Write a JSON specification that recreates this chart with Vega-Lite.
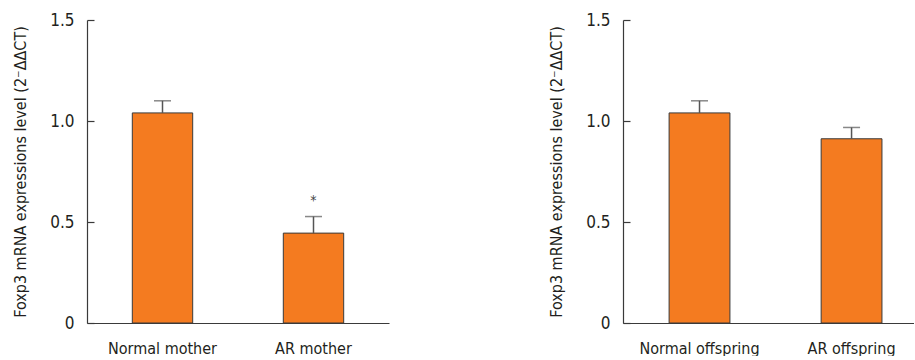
{
  "$schema": "https://vega.github.io/schema/vega-lite/v6.json",
  "background": "white",
  "padding": {"left": 12, "top": 11, "right": 0, "bottom": 0},
  "config": {
    "font": "DejaVu Sans Condensed, sans-serif",
    "view": {"stroke": null},
    "axis": {
      "labelFont": "DejaVu Sans Condensed, sans-serif",
      "titleFont": "DejaVu Sans Condensed, sans-serif",
      "labelFontSize": 16,
      "titleFontSize": 16,
      "titleFontWeight": "normal",
      "labelColor": "#231f20",
      "titleColor": "#231f20",
      "domainColor": "#3a3a3a",
      "tickColor": "#3a3a3a",
      "domainWidth": 1.2,
      "tickWidth": 1.2,
      "grid": false
    }
  },
  "data": {
    "values": [
      {"panel": "mother", "group": "Normal mother", "value": 1.04, "upper": 1.1, "sig": ""},
      {"panel": "mother", "group": "AR mother", "value": 0.445, "upper": 0.527, "sig": "*"},
      {"panel": "offspring", "group": "Normal offspring", "value": 1.04, "upper": 1.1, "sig": ""},
      {"panel": "offspring", "group": "AR offspring", "value": 0.912, "upper": 0.968, "sig": ""}
    ]
  },
  "spacing": 159,
  "hconcat": [
    {
      "width": 302,
      "height": 303,
      "transform": [{"filter": "datum.panel == 'mother'"}],
      "encoding": {
        "x": {
          "field": "group",
          "type": "nominal",
          "sort": null,
          "title": null,
          "scale": {"paddingInner": 0.6, "paddingOuter": 0.3},
          "axis": {"labelAngle": 0, "ticks": false, "labelPadding": 17}
        }
      },
      "layer": [
        {
          "mark": {"type": "bar", "color": "#f47b20", "stroke": "#3a3a3a", "strokeWidth": 1},
          "encoding": {
            "y": {
              "field": "value",
              "type": "quantitative",
              "scale": {"domain": [0, 1.5], "nice": false},
              "title": "Foxp3 mRNA expressions level (2⁻ΔΔCT)",
              "axis": {"values": [0, 0.5, 1, 1.5], "labelExpr": "datum.value == 0 ? '0' : format(datum.value, '.1f')", "labelFontSize": 17, "tickSize": -7, "labelPadding": 20, "titlePadding": 21}
            }
          }
        },
        {
          "mark": {"type": "rule", "color": "#555555", "strokeWidth": 1.5},
          "encoding": {"y": {"field": "value", "type": "quantitative"}, "y2": {"field": "upper"}}
        },
        {
          "mark": {"type": "tick", "color": "#555555", "thickness": 1.5, "size": 17},
          "encoding": {"y": {"field": "upper", "type": "quantitative"}}
        },
        {
          "mark": {"type": "text", "fontSize": 14, "dy": -16, "color": "#444444", "baseline": "middle"},
          "encoding": {"y": {"field": "upper", "type": "quantitative"}, "text": {"field": "sig"}}
        }
      ]
    },
    {
      "width": 291,
      "height": 303,
      "transform": [{"filter": "datum.panel == 'offspring'"}],
      "encoding": {
        "x": {
          "field": "group",
          "type": "nominal",
          "sort": null,
          "title": null,
          "scale": {"paddingInner": 0.6, "paddingOuter": 0.257, "align": 0.59},
          "axis": {"labelAngle": 0, "ticks": false, "labelPadding": 17}
        }
      },
      "layer": [
        {
          "mark": {"type": "bar", "color": "#f47b20", "stroke": "#3a3a3a", "strokeWidth": 1},
          "encoding": {
            "y": {
              "field": "value",
              "type": "quantitative",
              "scale": {"domain": [0, 1.5], "nice": false},
              "title": "Foxp3 mRNA expressions level (2⁻ΔΔCT)",
              "axis": {"values": [0, 0.5, 1, 1.5], "labelExpr": "datum.value == 0 ? '0' : format(datum.value, '.1f')", "labelFontSize": 17, "tickSize": -7, "labelPadding": 20, "titlePadding": 21}
            }
          }
        },
        {
          "mark": {"type": "rule", "color": "#555555", "strokeWidth": 1.5},
          "encoding": {"y": {"field": "value", "type": "quantitative"}, "y2": {"field": "upper"}}
        },
        {
          "mark": {"type": "tick", "color": "#555555", "thickness": 1.5, "size": 17},
          "encoding": {"y": {"field": "upper", "type": "quantitative"}}
        }
      ]
    }
  ]
}
